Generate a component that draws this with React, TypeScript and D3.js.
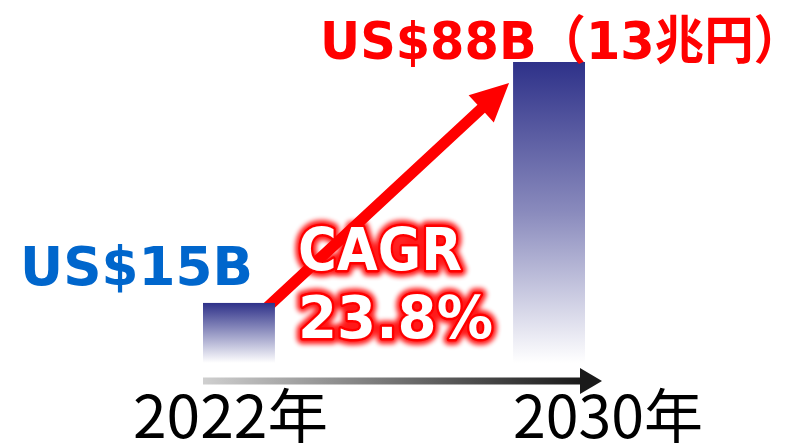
import React from "react";
import * as d3 from "d3";

const years = ["2022年", "2030年"];
const values = [15, 88];
const valueLabels = ["US$15B", "US$88B（13兆円）"];
const cagrLines = ["CAGR", "23.8%"];

const W = 807;
const H = 446;

export default function App() {
  const x = d3.scaleBand<string>().domain(years).range([203, 585]).paddingInner(0.768).paddingOuter(0);
  const y = d3.scaleLinear().domain([-3.2, 88]).range([363, 62]);
  const base = y(-3.2);

  const bw = x.bandwidth();
  const x0 = x(years[0])!;
  const x1 = x(years[1])!;

  const start: [number, number] = [x0 + bw - 16, y(values[0]) + 12];
  const tip: [number, number] = [x1 - 4, y(values[1]) + 21];
  const dx = tip[0] - start[0];
  const dy = tip[1] - start[1];
  const len = Math.hypot(dx, dy);
  const ux = dx / len, uy = dy / len;
  const px = -uy, py = ux;
  const headLen = 38, headHalf = 18.5, shaftHalf = 5.5;
  const hb: [number, number] = [tip[0] - ux * headLen, tip[1] - uy * headLen];
  const arrowPts = [
    [start[0] + px * shaftHalf, start[1] + py * shaftHalf],
    [hb[0] + px * shaftHalf, hb[1] + py * shaftHalf],
    [hb[0] + px * headHalf, hb[1] + py * headHalf],
    tip,
    [hb[0] - px * headHalf, hb[1] - py * headHalf],
    [hb[0] - px * shaftHalf, hb[1] - py * shaftHalf],
    [start[0] - px * shaftHalf, start[1] - py * shaftHalf],
  ];
  const arrowPath = d3.line()(arrowPts as [number, number][]) + "Z";

  const axisY = 381;
  const axisX0 = 203;
  const axisTip = 602;

  const latin = "'DejaVu Sans', 'Noto Sans CJK JP', sans-serif";
  const cjk = "'Noto Sans CJK JP', 'DejaVu Sans', sans-serif";

  return (
    <svg width={W} height={H} style={{ position: "absolute", left: 0, top: 0, background: "#fff" }}>
      <defs>
        <linearGradient id="barGrad1" x1="0" y1="0" x2="0" y2="1">
          <stop offset="0" stopColor="#2e3189" />
          <stop offset="1" stopColor="#ffffff" />
        </linearGradient>
        <linearGradient id="barGrad2" x1="0" y1="0" x2="0" y2="1">
          <stop offset="0" stopColor="#2e3189" />
          <stop offset="0.5" stopColor="#8a8bbd" />
          <stop offset="1" stopColor="#ffffff" />
        </linearGradient>
        <linearGradient id="axisGrad" x1="0" y1="0" x2="1" y2="0">
          <stop offset="0" stopColor="#cfcfcf" />
          <stop offset="1" stopColor="#1a1a1a" />
        </linearGradient>
        <filter id="glow" x="-20%" y="-40%" width="140%" height="180%">
          <feGaussianBlur stdDeviation="2.5" />
        </filter>
      </defs>

      <path d={arrowPath} fill="#ff0000" />

      {years.map((yr, i) => (
        <rect
          key={yr}
          x={x(yr)}
          y={y(values[i])}
          width={bw}
          height={base - y(values[i])}
          fill={i === 0 ? "url(#barGrad1)" : "url(#barGrad2)"}
        />
      ))}

      <rect x={axisX0} y={axisY - 3.5} width={axisTip - 22 - axisX0} height={7} fill="url(#axisGrad)" />
      <path d={`M${axisTip - 22},${axisY - 13} L${axisTip},${axisY} L${axisTip - 22},${axisY + 13} Z`} fill="#1a1a1a" />

      <text x={x0 - 70} y={438} fontFamily={cjk} fontSize={59} fill="#000" textLength={195} lengthAdjust="spacingAndGlyphs">
        {years[0]}
      </text>
      <text x={x1} y={438} fontFamily={cjk} fontSize={59} fill="#000" textLength={190} lengthAdjust="spacingAndGlyphs">
        {years[1]}
      </text>

      <text x={20} y={285} fontFamily={latin} fontWeight="bold" fontSize={54} fill="#0066cc" textLength={233} lengthAdjust="spacingAndGlyphs">
        {valueLabels[0]}
      </text>
      <text x={320} y={59} fontFamily={latin} fontWeight="bold" fontSize={52} fill="#ff0000" textLength={483} lengthAdjust="spacingAndGlyphs">
        {valueLabels[1]}
      </text>

      {cagrLines.map((t, i) => {
        const ty = i === 0 ? 270 : 338;
        const tl = i === 0 ? 164 : 195;
        return (
          <g key={t}>
            <text x={298} y={ty} fontFamily={latin} fontWeight="bold" fontSize={59} fill="#ff0000" stroke="#ff0000" strokeWidth={12} strokeLinejoin="round" filter="url(#glow)" opacity={0.9} textLength={tl} lengthAdjust="spacingAndGlyphs">
              {t}
            </text>
            <text x={298} y={ty} fontFamily={latin} fontWeight="bold" fontSize={59} fill="#ffffff" stroke="#ff0000" strokeWidth={5} strokeLinejoin="round" paintOrder="stroke" textLength={tl} lengthAdjust="spacingAndGlyphs">
              {t}
            </text>
          </g>
        );
      })}
    </svg>
  );
}
